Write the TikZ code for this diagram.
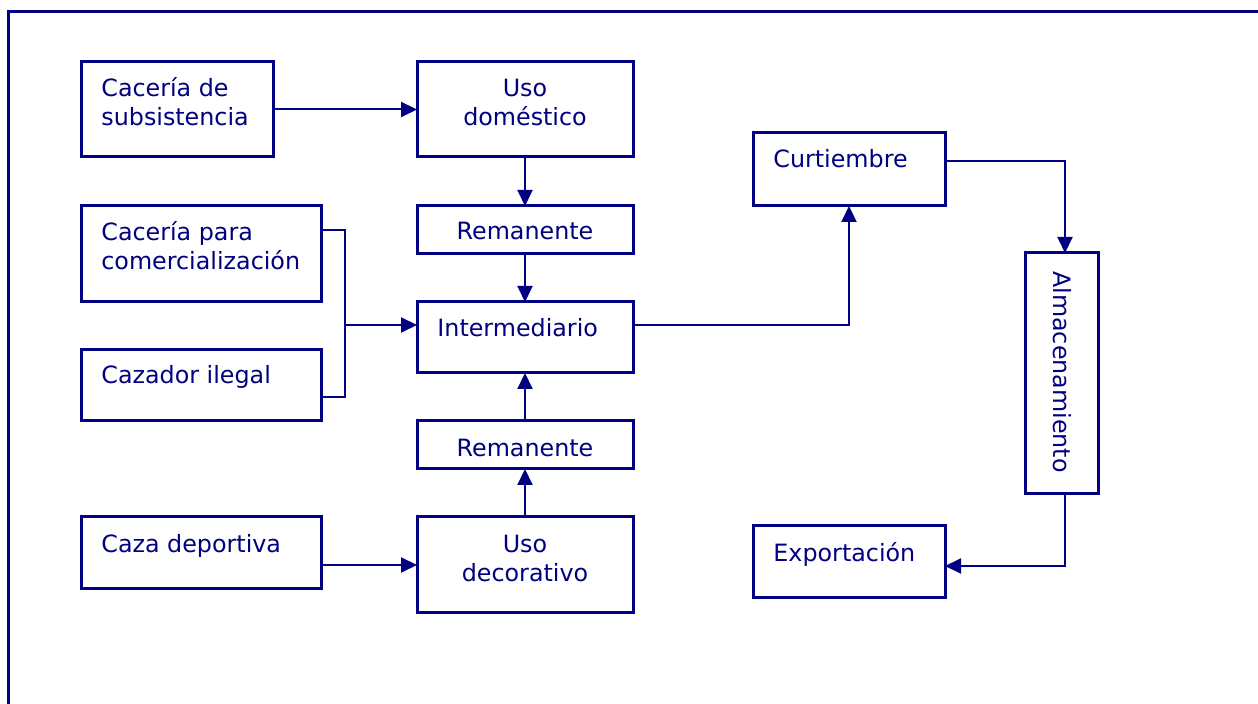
\documentclass[tikz,border=0pt]{standalone}
\usepackage{fontspec}
\setmainfont{DejaVu Sans}
\usepackage{xcolor}
\usepackage{tikz}
\usetikzlibrary{arrows.meta}
\usetikzlibrary{calc}
\definecolor{navyline}{RGB}{0,0,128}
\tikzstyle{box}=[rectangle,draw=navyline,line width=1.5pt,inner sep=0pt,outer sep=0pt]
\tikzstyle{txt}=[text=navyline,inner sep=0pt,font=\fontsize{11.9pt}{14.5pt}\selectfont]
\tikzstyle{flow} = [draw=navyline,line width=1pt,-{Triangle[length=8pt,width=7.5pt]}]
\tikzstyle{link} = [draw=navyline,line width=1pt]

\begin{document}
\begin{tikzpicture}[x=0.5pt,y=-0.5pt]

   \useasboundingbox (0,0) rectangle (1258,704);
   \draw[navyline, line width=1.5pt] (8,704) -- (8,12) -- (1258,12);

  \foreach \x/\y/\w/\h/\name in {177/109.5/96/47.5/sub, 525/109.5/108/47.5/dom,
          525/230/108/24/rem1, 525/337.5/108/35.5/inter, 525/445/108/24/rem2,
          525/565/108/48/deco, 201/254/120/48/com, 201/385.5/120/35.5/ileg,
          201/553/120/36/dep, 849/169.5/96/36.5/curt, 1061.5/373.5/36.5/120.5/alm,
          849/562/96/36/exp}
          \node[box, minimum width=\w pt, minimum height=\h pt] (\name) at (\x,\y) {};

   \node[txt, anchor=west, align=left] (subT) at (101,102) {Cacería de\\subsistencia};
   \node[txt, align=center] (domT) at (525,102.5) {Uso\\doméstico};
   \node[txt, anchor=base] (rem1T) at (525,239.5) {Remanente};
   \node[txt, anchor=base west] (interT) at (437,337) {Intermediario};
   \node[txt, anchor=base] (rem2T) at (525,456.5) {Remanente};
   \node[txt, align=center] (decoT) at (525,558) {Uso\\decorativo};
   \node[txt, anchor=west, align=left] (comT) at (101,246) {Cacería para\\comercialización};
   \node[txt, anchor=base west] (ilegT) at (101,384) {Cazador ilegal};
   \node[txt, anchor=base west] (depT) at (101,552.5) {Caza deportiva};
   \node[txt, anchor=base west] (curtT) at (773,168) {Curtiembre};
   \node[txt, anchor=base west] (expT) at (773,561.5) {Exportación};
   \node[txt, rotate=-90] (almT) at (1062,372) {Almacenamiento};

   \coordinate (junc) at (345,325);

  \path[flow] (sub) -- (dom);
  \path[flow] (dom) -- (rem1);
  \path[flow] (rem1) -- (inter);
  \path[flow] (deco) -- (rem2);
  \path[flow] (rem2) -- (inter);
  \path[flow] (dep.east |- deco.west) -- (deco.west);

  \path[link] ([yshift=-12pt]com.north east) -| (junc);
  \path[link] ([yshift=-5.75pt]ileg.east) -| (junc);
  \path[flow] (junc) -- ([yshift=6.25pt]inter.west);

  \path[flow] ([yshift=6.25pt]inter.east) -| (curt.south);
  \path[flow] ([yshift=4.25pt]curt.east) -| ([xshift=1.75pt]alm.north);
  \path[flow] ([xshift=1.75pt]alm.south) |- ([yshift=-2pt]exp.east);

   \end{tikzpicture}
\end{document}
